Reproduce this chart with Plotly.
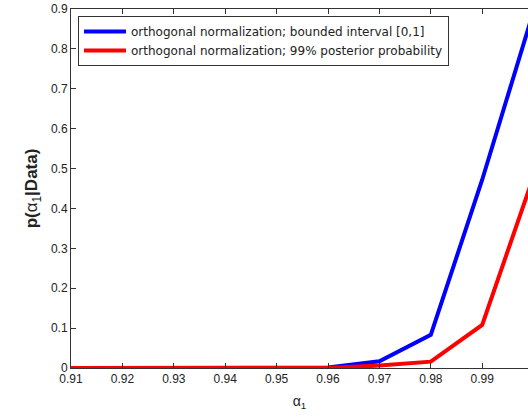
import plotly.graph_objects as go

alpha = [0.91, 0.92, 0.93, 0.94, 0.95, 0.96, 0.97, 0.98, 0.99, 1.00]
bounded = [0.0, 0.0, 0.0, 0.0, 0.0, 0.001, 0.017, 0.083, 0.472, 0.895]
posterior = [0.0, 0.0, 0.0, 0.0, 0.0, 0.0, 0.006, 0.016, 0.108, 0.481]
xticks = [0.91, 0.92, 0.93, 0.94, 0.95, 0.96, 0.97, 0.98, 0.99]
yticks = [0, 0.1, 0.2, 0.3, 0.4, 0.5, 0.6, 0.7, 0.8, 0.9]

font = "Liberation Sans, Arial, sans-serif"
legfont = "DejaVu Sans, sans-serif"

fig = go.Figure()
fig.add_trace(go.Scatter(x=alpha, y=bounded, mode="lines",
                         line=dict(color="#0000ff", width=4),
                         name="orthogonal normalization; bounded interval [0,1]"))
fig.add_trace(go.Scatter(x=alpha, y=posterior, mode="lines",
                         line=dict(color="#ff0000", width=4),
                         name="orthogonal normalization; 99% posterior probability"))

axis_common = dict(showgrid=False, zeroline=False, showline=True, linecolor="#333",
                   linewidth=1, ticks="inside", ticklen=5,
                   tickcolor="#333", tickfont=dict(family=font, size=12, color="#222"))

fig.update_layout(
    width=528, height=420,
    margin=dict(l=71, r=0, t=9, b=52),
    paper_bgcolor="white", plot_bgcolor="white",
    font=dict(family=font, color="#222"),
    xaxis=dict(range=[0.91, 0.99891], tickvals=xticks, mirror="ticks",
               ticktext=[f"{v:.2f}" for v in xticks],
               title=dict(text="α<sub>1</sub>", font=dict(size=14, family=font), standoff=10),
               **axis_common),
    yaxis=dict(range=[0, 0.9], tickvals=yticks, mirror=False,
               ticktext=["0"] + [f"{v:.1f}" for v in yticks[1:]],
               title=dict(text="<b>p(</b>α<sub>1</sub><b>|Data)</b>", font=dict(size=17, family=font), standoff=8),
               **axis_common),
    legend=dict(x=0.0153, y=0.9805, xanchor="left", yanchor="top",
                bordercolor="#333", borderwidth=1, bgcolor="white",
                font=dict(family=legfont, size=12, color="#222"),
                tracegroupgap=0, itemwidth=42),
    showlegend=True,
)

fig.write_html("out.html")
